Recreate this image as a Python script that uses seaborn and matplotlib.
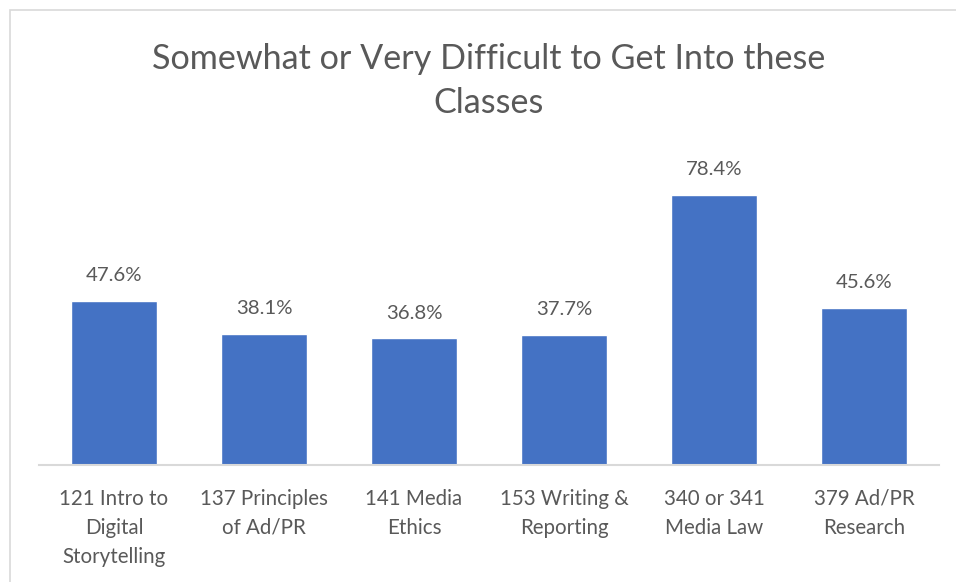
import pandas as pd
import matplotlib.pyplot as plt
import seaborn as sns
from matplotlib.patches import Rectangle

courses = [
    "121 Intro to\nDigital\nStorytelling",
    "137 Principles\nof Ad/PR",
    "141 Media\nEthics",
    "153 Writing &\nReporting",
    "340 or 341\nMedia Law",
    "379 Ad/PR\nResearch",
]
pct_difficult = [47.6, 38.1, 36.8, 37.7, 78.4, 45.6]

df = pd.DataFrame({"course": courses, "pct": pct_difficult})

sns.set_style("white")
plt.rcParams["font.family"] = ["Lato", "DejaVu Sans"]

text_color = "#595959"
bar_color = "#4472C4"

fig = plt.figure(figsize=(9.56, 5.82), dpi=100)
ax = fig.add_axes([39 / 956, 117 / 582, 900 / 956, 310 / 582])

sns.barplot(data=df, x="course", y="pct", color=bar_color, width=0.573,
            saturation=1, ax=ax)

for p, v in zip(ax.patches, df["pct"]):
    ax.annotate(f"{v:.1f}%", (p.get_x() + p.get_width() / 2, p.get_height()),
                xytext=(0, 12), textcoords="offset points", ha="center",
                va="bottom", fontsize=14.7, color=text_color)

ax.set_ylim(0, 90)
ax.set_xlim(-0.5, 5.5)
ax.set_yticks([])
ax.set_xlabel("")
ax.set_ylabel("")
for s in ["top", "left", "right"]:
    ax.spines[s].set_visible(False)
ax.spines["bottom"].set_color("#D9D9D9")
ax.spines["bottom"].set_linewidth(1.5)
ax.tick_params(axis="x", length=0, pad=17, labelsize=14.8, labelcolor=text_color)
for lbl in ax.get_xticklabels():
    lbl.set_linespacing(1.58)

fig.text(489 / 956, 1 - 81 / 582, "Somewhat or Very Difficult to Get Into these\nClasses",
         ha="center", va="center", fontsize=24.6, color=text_color, linespacing=1.45)

# chart frame
fig.patches.append(Rectangle((10 / 956, -0.1), 1.2, 1.1 - 10 / 582,
                             transform=fig.transFigure, fill=False,
                             edgecolor="#D9D9D9", linewidth=1.2))

fig.savefig("out.png", dpi=100)
